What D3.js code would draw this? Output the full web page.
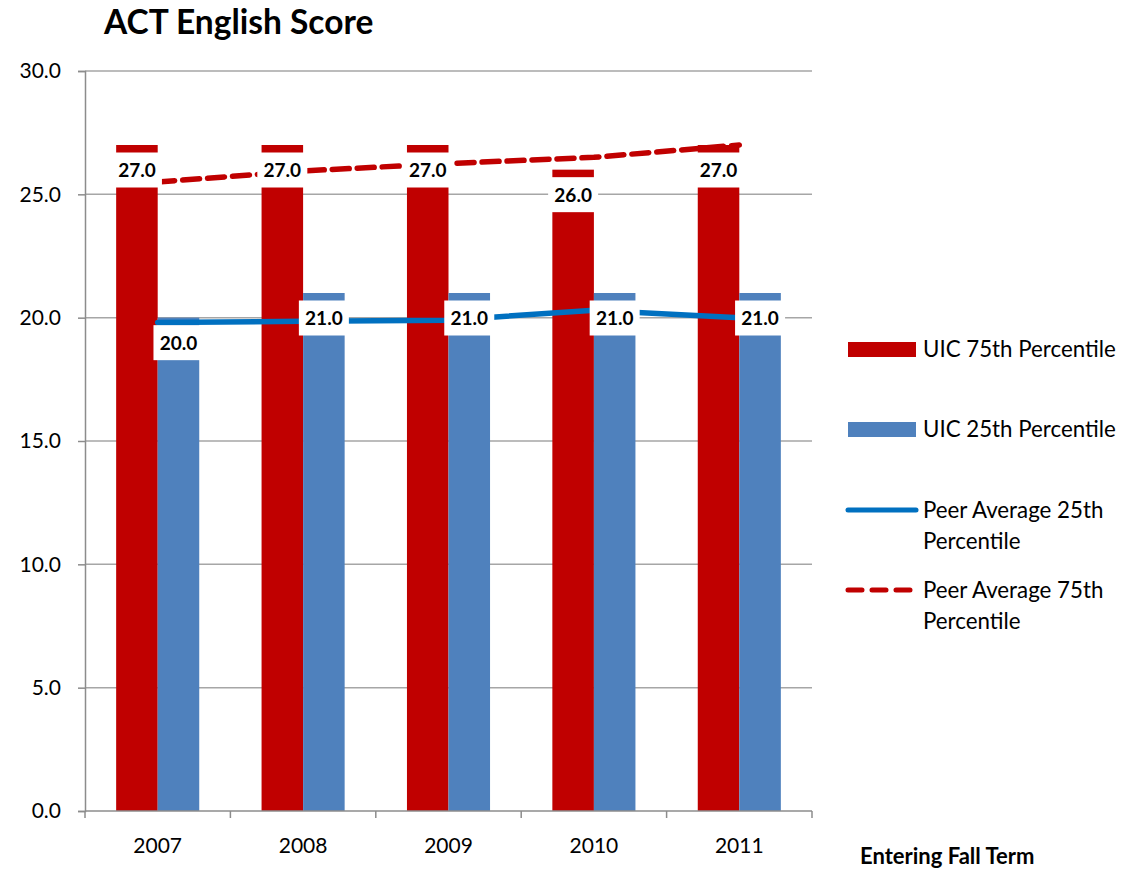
<!DOCTYPE html>
<html>
<head>
<meta charset="utf-8">
<script src="https://cdn.jsdelivr.net/npm/d3@7"></script>
<style>
  body { margin: 0; background: #fff; }
  svg { font-family: Lato, "Open Sans", sans-serif; }
</style>
</head>
<body>
<svg id="chart" width="1135" height="871"></svg>
<script>
var years = ['2007', '2008', '2009', '2010', '2011'];
var uic75 = [27.0, 27.0, 27.0, 26.0, 27.0];
var uic25 = [20.0, 21.0, 21.0, 21.0, 21.0];
var peer25 = [19.8, 19.85, 19.9, 20.3, 20.0];
var peer75 = [25.5, 25.95, 26.25, 26.5, 27.0];
var yTicks = [0, 5, 10, 15, 20, 25, 30];

var svg = d3.select('#chart');
var plotLeft = 85, plotRight = 812, plotTop = 71, plotBottom = 811;

var x0 = d3.scaleBand().domain(years).range([plotLeft, plotRight]).padding(0);
var x1 = d3.scaleBand().domain(['p75', 'p25']).range([0, x0.bandwidth()]).paddingOuter(0.75);
var y = d3.scaleLinear().domain([0, 30]).range([plotBottom, plotTop]);

// gridlines
svg.append('g').selectAll('line').data(yTicks.slice(1)).enter().append('line')
  .attr('x1', plotLeft).attr('x2', plotRight)
  .attr('y1', function (d) { return y(d); }).attr('y2', function (d) { return y(d); })
  .style('stroke', '#a6a6a6').style('stroke-width', 1.5);

// bars
var groups = svg.append('g').selectAll('g').data(years).enter().append('g')
  .attr('transform', function (d) { return 'translate(' + x0(d) + ',0)'; });
groups.append('rect')
  .attr('x', x1('p75')).attr('width', x1.bandwidth())
  .attr('y', function (d, i) { return y(uic75[i]); })
  .attr('height', function (d, i) { return plotBottom - y(uic75[i]); })
  .style('fill', '#c00000');
groups.append('rect')
  .attr('x', x1('p25')).attr('width', x1.bandwidth())
  .attr('y', function (d, i) { return y(uic25[i]); })
  .attr('height', function (d, i) { return plotBottom - y(uic25[i]); })
  .style('fill', '#4f81bd');

// axes
var yAxis = d3.axisLeft(y).tickValues(yTicks).tickSize(7).tickFormat(d3.format('.1f'));
var ya = svg.append('g').attr('transform', 'translate(' + plotLeft + ',0)').call(yAxis);
ya.select('.domain').style('stroke', '#8c8c8c').style('stroke-width', 1.5);
ya.selectAll('.tick line').style('stroke', '#8c8c8c').style('stroke-width', 1.5);
ya.selectAll('.tick text').attr('x', -24).style('font-size', '21px').style('fill', '#000')
  .style('font-family', 'Lato, sans-serif');

var xa = svg.append('g').attr('transform', 'translate(0,' + plotBottom + ')');
xa.append('line').attr('x1', plotLeft).attr('x2', plotRight)
  .style('stroke', '#8c8c8c').style('stroke-width', 1.5);
var edges = years.map(function (d) { return x0(d); }).concat([plotRight]);
xa.selectAll('line.tk').data(edges).enter().append('line').attr('class', 'tk')
  .attr('x1', function (d) { return d; }).attr('x2', function (d) { return d; })
  .attr('y1', 0).attr('y2', 7)
  .style('stroke', '#8c8c8c').style('stroke-width', 1.5);
xa.selectAll('text').data(years).enter().append('text')
  .attr('x', function (d) { return x0(d) + x0.bandwidth() / 2; })
  .attr('y', 42)
  .attr('text-anchor', 'middle')
  .style('font-size', '21px')
  .text(function (d) { return d; });

// peer lines
var cx = function (d, i) { return x0(years[i]) + x0.bandwidth() / 2; };
var line = d3.line().x(cx).y(function (d) { return y(d); });
svg.append('path').datum(peer25).attr('d', line)
  .style('fill', 'none').style('stroke', '#0070c0').style('stroke-width', 5.5)
  .style('stroke-linecap', 'round');
svg.append('path').datum(peer75).attr('d', line)
  .style('fill', 'none').style('stroke', '#c00000').style('stroke-width', 5.5)
  .style('stroke-dasharray', '17,8').style('stroke-linecap', 'round');

// data labels
function addLabels(vals, key) {
  var g = svg.append('g').selectAll('g').data(vals).enter().append('g')
    .attr('transform', function (d, i) {
      return 'translate(' + (x0(years[i]) + x1(key) + x1.bandwidth() / 2) + ',' + (y(d) + 25) + ')';
    });
  g.append('rect').attr('x', -25).attr('y', -17.5).attr('width', 50).attr('height', 35)
    .style('fill', '#fff');
  g.append('text').attr('text-anchor', 'middle').attr('dy', '0.36em')
    .style('font-size', '19px').style('font-weight', 'bold')
    .text(function (d) { return d3.format('.1f')(d); });
}
addLabels(uic75, 'p75');
addLabels(uic25, 'p25');

// title
svg.append('text').attr('x', 104).attr('y', 34)
  .style('font-size', '33.5px').style('font-weight', 'bold')
  .text('ACT English Score');

svg.append('text').attr('x', 860).attr('y', 864)
  .style('font-size', '22px').style('font-weight', 'bold')
  .text('Entering Fall Term');

// legend
var legend = svg.append('g');
legend.append('rect').attr('x', 848).attr('y', 342).attr('width', 68).attr('height', 15).style('fill', '#c00000');
legend.append('rect').attr('x', 848).attr('y', 422).attr('width', 68).attr('height', 15).style('fill', '#4f81bd');
legend.append('line').attr('x1', 848).attr('x2', 916).attr('y1', 510).attr('y2', 510)
  .style('stroke', '#0070c0').style('stroke-width', 5).style('stroke-linecap', 'round');
legend.append('line').attr('x1', 848).attr('x2', 916).attr('y1', 590).attr('y2', 590)
  .style('stroke', '#c00000').style('stroke-width', 5).style('stroke-dasharray', '14,10')
  .style('stroke-linecap', 'round');
var legendText = [
  { y: 357, lines: ['UIC 75th Percentile'] },
  { y: 437, lines: ['UIC 25th Percentile'] },
  { y: 518, lines: ['Peer Average 25th', 'Percentile'] },
  { y: 598, lines: ['Peer Average 75th', 'Percentile'] }
];
legendText.forEach(function (l) {
  l.lines.forEach(function (t, j) {
    legend.append('text').attr('x', 923).attr('y', l.y + j * 31)
      .style('font-size', '22.3px').text(t);
  });
});
</script>
</body>
</html>
